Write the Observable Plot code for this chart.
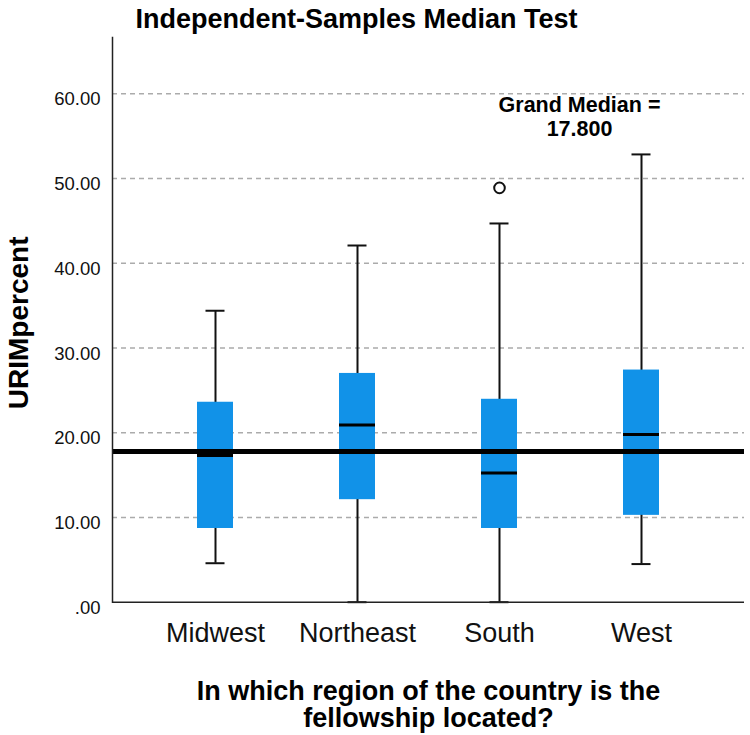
<!DOCTYPE html>
<html>
<head>
<meta charset="utf-8">
<script src="https://cdn.jsdelivr.net/npm/d3@7"></script>
<script src="https://cdn.jsdelivr.net/npm/@observablehq/plot@0.6"></script>
<style>
  body { margin: 0; background: #fff; }
  #chart svg { display: block; }
</style>
</head>
<body>
<div id="chart"></div>
<script>
// ---- data ----
const regions = ["Midwest", "Northeast", "South", "West"];
const whiskerLow = [4.6, 0, 0, 4.5];
const q1 = [8.7, 12.1, 8.7, 10.25];
const medians = [17.3, 20.9, 15.25, 19.8];
const q3 = [23.6, 27.0, 23.95, 27.4];
const whiskerHigh = [34.4, 42.1, 44.7, 52.85];
const outlierRegion = ["South"];
const outlierValue = [48.9];
const grandMedian = [17.8];
const yTicks = [0, 10, 20, 30, 40, 50, 60];
const titleText = "Independent-Samples Median Test";
const yLabel = "URIMpercent";
const xLabel = "In which region of the country is the\nfellowship located?";
const medianLabel = "Grand Median =\n17.800";

const boxes = regions.map((r, i) => ({
  region: r, lo: whiskerLow[i], q1: q1[i], med: medians[i], q3: q3[i], hi: whiskerHigh[i]
}));
const outliers = outlierRegion.map((r, i) => ({ region: r, value: outlierValue[i] }));

const font = "'Liberation Sans', Arial, Helvetica, sans-serif";
const blue = "#1192e8";

const chart = Plot.plot({
  width: 750,
  height: 735,
  marginLeft: 112,
  marginRight: 6,
  marginTop: 37,
  marginBottom: 133.3,
  style: { fontFamily: font, background: "white", color: "black", overflow: "visible" },
  x: { domain: regions, paddingInner: 0.7468, paddingOuter: 0.596, align: 0.5, label: null },
  y: { domain: [0, 66.65], label: null },
  marks: [
    Plot.ruleY(yTicks.filter(d => d > 0), { stroke: "#ababab", strokeWidth: 1.5, strokeDasharray: "5,4" }),
    Plot.axisY({
      ticks: yTicks, tickSize: 0, tickPadding: 12, fontSize: 18.5, dy: 5.7, label: null,
      tickFormat: d => d === 0 ? ".00" : d.toFixed(2), fill: "#111"
    }),
    Plot.axisX({ tickSize: 0, tickPadding: 21, fontSize: 27, label: null, fill: "#111" }),
    Plot.ruleX(boxes, { x: "region", y1: "lo", y2: "hi", stroke: "#111", strokeWidth: 2 }),
    Plot.tickY(boxes, { x: "region", y: "lo", stroke: "#111", strokeWidth: 2, insetLeft: 8.5, insetRight: 8.5 }),
    Plot.tickY(boxes, { x: "region", y: "hi", stroke: "#111", strokeWidth: 2, insetLeft: 8.5, insetRight: 8.5 }),
    Plot.barY(boxes, { x: "region", y1: "q1", y2: "q3", fill: blue }),
    Plot.tickY(boxes, { x: "region", y: "med", stroke: "black", strokeWidth: 3 }),
    Plot.ruleY(grandMedian, { stroke: "black", strokeWidth: 5 }),
    Plot.dot(outliers, { x: "region", y: "value", r: 5.3, stroke: "#111", fill: "white", strokeWidth: 2 }),
    Plot.ruleY([0], { stroke: "#222", strokeWidth: 1.5 }),
    Plot.frame({ anchor: "left", stroke: "#222", strokeWidth: 1.5 }),
    Plot.text([titleText], {
      text: d => d, frameAnchor: "top-left", textAnchor: "start", lineAnchor: "bottom",
      dx: 23, dy: -10, fontSize: 27, fontWeight: "bold", fill: "black"
    }),
    Plot.text([medianLabel], {
      text: d => d, frameAnchor: "top-left", textAnchor: "middle", lineAnchor: "bottom",
      dx: 467, dy: 98, fontSize: 21.5, fontWeight: "bold", lineHeight: 1.1, fill: "black"
    }),
    Plot.text([yLabel], {
      text: d => d, frameAnchor: "left", rotate: -90, textAnchor: "middle", lineAnchor: "bottom",
      dx: -85, dy: 3, fontSize: 28, fontWeight: "bold", fill: "black"
    }),
    Plot.text([xLabel], {
      text: d => d, frameAnchor: "bottom", textAnchor: "middle", lineAnchor: "bottom",
      dy: 125, fontSize: 27, fontWeight: "bold", lineHeight: 1.02, fill: "black"
    })
  ]
});

document.getElementById("chart").appendChild(chart);
</script>
</body>
</html>
